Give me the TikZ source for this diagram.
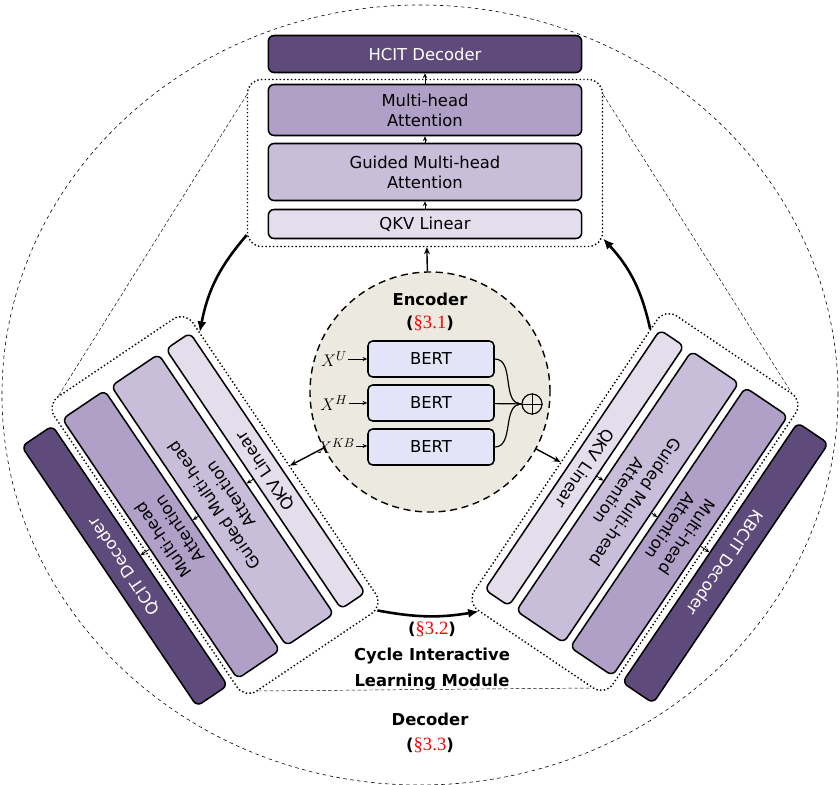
\documentclass[tikz,border=0pt]{standalone}
\usepackage{fontspec}
\setmainfont{DejaVu Sans}
\newfontfamily\secfont{Liberation Serif}
\usetikzlibrary{arrows.meta}

\definecolor{decfill}{RGB}{94,75,123}
\definecolor{mhafill}{RGB}{176,160,199}
\definecolor{gmhafill}{RGB}{200,190,218}
\definecolor{qkvfill}{RGB}{228,222,236}
\definecolor{bertfill}{RGB}{228,228,248}
\definecolor{encfill}{RGB}{236,234,224}

% red section number between black brackets
\newcommand{\secref}[1]{(\textcolor{red}{\secfont\mdseries\fontsize{16}{22}\selectfont #1})}

% one decoder block: dotted group, three layers, and its decoder bar
\newcommand{\cilgroup}[2]{%
  \node[grp] (#1grp) at (0,0) {};
  \node[blk,fill=decfill,text=white,minimum height=1.11cm] (#1dec) at (0,-109) {#2};
  \node[blk,fill=mhafill,minimum height=1.53cm] (#1mha) at (0,-53) {Multi-head\\Attention};
  \node[blk,fill=gmhafill,minimum height=1.71cm] (#1gmha) at (0,9) {Guided Multi-head\\Attention};
  \node[blk,fill=qkvfill,minimum height=0.87cm] (#1qkv) at (0,61) {QKV Linear};
  \draw[tip] (#1qkv) -- (#1gmha);
  \draw[tip] (#1gmha) -- (#1mha);
  \draw[tip] (#1mha) -- (#1dec);
}

\begin{document}
\begin{tikzpicture}[x=0.03cm,y=-0.03cm,
blk/.style={
% the layer boxes:
rectangle,
draw=black,
line width=1.3pt,
rounded corners=5pt,
minimum width=9.4cm,
inner sep=2pt,
align=center,
font=\fontsize{14}{17}\selectfont
},
grp/.style={rectangle,draw=black,dotted,line width=1.2pt,rounded corners=12pt,
minimum width=10.65cm,minimum height=5.01cm},
bertbox/.style={rectangle,draw=black,line width=1.3pt,rounded corners=4pt,fill=bertfill,
minimum width=3.78cm,minimum height=1.08cm,font=\fontsize{14}{17}\selectfont},
encircle/.style={circle,draw=black,line width=1.2pt,dash pattern=on 6pt off 4pt,
fill=encfill,minimum size=7.2cm},
xin/.style={font=\fontsize{15}{17}\selectfont,inner sep=1pt},
tip/.style={-{Stealth[length=4pt,width=3.5pt]},line width=0.7pt},
feed/.style={-{Stealth[length=6pt,width=5pt]},line width=1.2pt},
cyc/.style={-{Latex[length=9pt,width=8pt]},line width=2.2pt},
lbl/.style={font=\bfseries\fontsize{14}{22}\selectfont,align=center},
divider/.style={densely dashed,line width=0.4pt}
]
\useasboundingbox (0,0) rectangle (840,785);

\draw[dashed,line width=0.5pt] (420,395) ellipse [x radius=12.54cm, y radius=11.7cm];

% Encoder:
\node[encircle] (enc) at (430,392) {};
\node[lbl,font=\bfseries\fontsize{14}{20}\selectfont] (enctitle) at (430,312) {Encoder\\\secref{§3.1}};
\node[bertbox] (bert1) at (431,359) {BERT};
\node[bertbox] (bert2) at (431,403) {BERT};
\node[bertbox] (bert3) at (431,447) {BERT};
\node[xin] (xu) at (334,359) {$X^{U}$};
\node[xin] (xh) at (334,403) {$X^{H}$};
\node[xin] (xkb) at (336,446) {$X^{KB}$};
\draw[tip] (xu) -- (bert1);
\draw[tip] (xh) -- (bert2);
\draw[tip] (xkb) -- (xkb -| bert3.west);
\node[circle,draw=black,line width=1pt,minimum size=0.6cm,inner sep=0pt] (sum) at (532,404) {};
\draw[line width=0.8pt] (sum.north) -- (sum.south) (sum.west) -- (sum.east);
\draw[line width=1pt] (bert1.east) to[out=0,in=180] (sum.west);
\draw[tip,line width=1pt] (bert2) -- (sum);
\draw[line width=1pt] (bert3.east) to[out=0,in=180] (sum.west);

% Decoder blocks:
\begin{scope}[shift={(425,163)},transform shape]
\cilgroup{top}{HCIT Decoder}
\end{scope}
\begin{scope}[shift={(215,505)},rotate=124,transform shape]
\cilgroup{left}{QCIT Decoder}
\end{scope}
\begin{scope}[shift={(635,502)},rotate=-124,transform shape]
\cilgroup{right}{KBCIT Decoder}
\end{scope}

\draw[divider] (topgrp.159) -- (leftgrp.21);
\draw[divider] (topgrp.21) -- (rightgrp.159);
\draw[divider] (leftgrp.159) -- (rightgrp.21);

\draw[feed] (enc) -- (topgrp);
\draw[feed] (enc) -- (leftgrp);
\draw[feed] (enc) -- (rightgrp);

% the cycle:
\draw[cyc] (topgrp.202) to[bend right=15] (leftgrp.-29);
\draw[cyc] (leftgrp.203) to[bend right=10] (rightgrp.-21);
\draw[cyc] (rightgrp.209) to[bend right=15] (topgrp.-23);

\node[lbl] (cyclbl) at (432,656) {\secref{§3.2}\\Cycle Interactive\\Learning Module};
\node[lbl] (declbl) at (430,733) {Decoder\\\secref{§3.3}};
\end{tikzpicture}
\end{document}
